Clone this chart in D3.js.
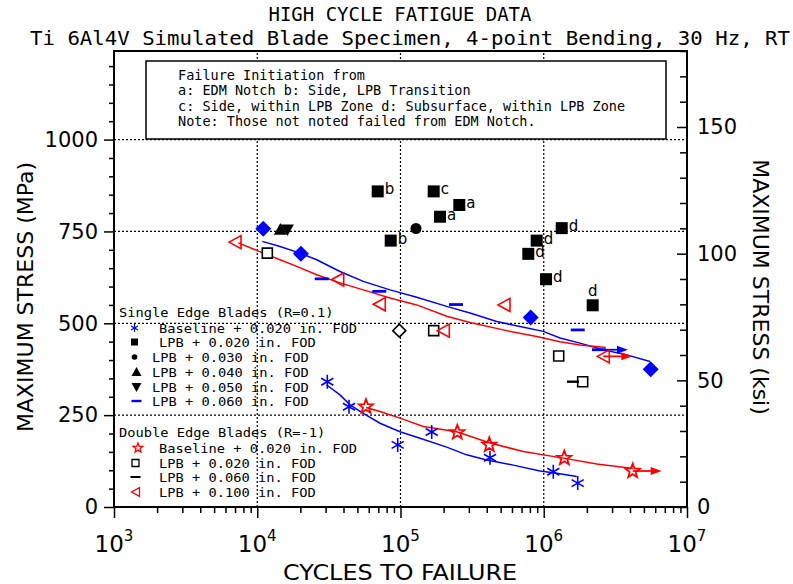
<!DOCTYPE html>
<html>
<head>
<meta charset="utf-8">
<script src="https://cdn.jsdelivr.net/npm/d3@7"></script>
<style>
  body { margin: 0; background: #fff; }
  text { fill: #000; }
</style>
</head>
<body>
<svg id="chart" width="793" height="584"></svg>
<script>
// values, [cycles, MPa]
var KSI = 6.895;
var xTicks = [1e3, 1e4, 1e5, 1e6, 1e7];
var yTicks = [0, 250, 500, 750, 1000];
var ksiTicks = [0, 50, 100, 150];

// Single Edge Blades (R=0.1)
var seBaseline = [[30830, 341], [43700, 273], [95600, 169], [165100, 204], [421500, 134], [1166000, 96], [1726000, 65]];
var seLpb020 = [[69340, 859, "b"], [85450, 725, "b"], [170500, 859, "c"], [257300, 822, "a"], [188700, 790, "a"],
                [1335000, 759, "d"], [892900, 725, "d"], [780100, 689, "d"], [1036800, 620, "d"], [2196000, 549, "d"]];
var seLpb030 = [[128300, 758]];
var seLpb040 = [[14500, 755]];
var seLpb050 = [[16240, 755]];
var seLpb060 = [[28200, 621], [71100, 587], [244000, 551], [1726000, 482], [2430000, 428, "runout"]];
var seDiamonds = [[11015, 757], [20180, 689], [811000, 516], [5580000, 375]];
var openDiamonds = [[98080, 480]];

// Double Edge Blades (R=-1)
var deBaseline = [[57430, 273], [249200, 203], [416800, 169], [1391000, 133], [4178000, 98, "runout"]];
var deLpb020 = [[11755, 691], [170500, 480], [1272000, 411], [1870000, 341]];
var deLpb060 = [[1600000, 341]];
var deLpb100 = [[6993, 721], [36430, 619], [71100, 552], [199000, 480], [527900, 550], [2604000, 410, "runout"]];

// fitted curves
var seLpbFit = [[10846, 723], [14410, 709], [19880, 691], [26000, 673], [37820, 641], [55000, 614], [84470, 591],
                [129800, 571], [210200, 546], [305600, 528], [469400, 505], [682900, 491], [993000, 478],
                [1298000, 460], [1791000, 446], [2592000, 428], [3794000, 414], [5516000, 396]];
var deLpbFit = [[7375, 719], [11020, 691], [14410, 673], [18860, 655], [26000, 632], [37820, 610], [55000, 591],
                [84470, 569], [129800, 550], [210200, 519], [305600, 502], [551300, 480], [892900, 464],
                [1298000, 450], [1791000, 441], [2706000, 434]];
var seBaseFit = [[30530, 332], [37820, 305], [44420, 278], [55000, 255], [71920, 228], [99200, 205], [136800, 187],
                 [210200, 163], [289800, 142], [399700, 128], [612900, 114], [941400, 98], [1231000, 92], [1698000, 83]];
var deBaseFit = [[57430, 271], [71920, 260], [99200, 242], [144300, 219], [246800, 205], [421500, 174],
                 [720000, 151], [1369000, 133], [2343000, 117], [4219000, 105]];

var boxLines = ["Failure Initiation from",
                "a: EDM Notch b: Side, LPB Transition",
                "c: Side, within LPB Zone d: Subsurface, within LPB Zone",
                "Note: Those not noted failed from EDM Notch."];
var seLegend = ["Baseline + 0.020 in. FOD", "LPB + 0.020 in. FOD", "LPB + 0.030 in. FOD",
                "LPB + 0.040 in. FOD", "LPB + 0.050 in. FOD", "LPB + 0.060 in. FOD"];
var deLegend = ["Baseline + 0.020 in. FOD", "LPB + 0.020 in. FOD", "LPB + 0.060 in. FOD", "LPB + 0.100 in. FOD"];

var BLUE = "#0000ff", RED = "#ff0000";
var MONO = "'DejaVu Sans Mono', monospace";
var SANS = "'DejaVu Sans', sans-serif";

var svg = d3.select("#chart");

var x = d3.scaleLog().domain([1e3, 1e7]).range([114, 687]);
var y = d3.scaleLinear().domain([0, 180 * KSI]).range([507, 51]);
var yKsi = d3.scaleLinear().domain([0, 180]).range([507, 51]);

// titles
svg.append("text").attr("x", 400).attr("y", 21).attr("text-anchor", "middle")
  .style("font-family", MONO).style("font-size", "19px")
  .attr("textLength", 263).attr("lengthAdjust", "spacingAndGlyphs")
  .text("HIGH CYCLE FATIGUE DATA");
svg.append("text").attr("x", 410).attr("y", 45).attr("text-anchor", "middle")
  .style("font-family", MONO).style("font-size", "20px")
  .attr("textLength", 760).attr("lengthAdjust", "spacingAndGlyphs")
  .text("Ti 6Al4V Simulated Blade Specimen, 4-point Bending, 30 Hz, RT");

// dotted grid
var grid = svg.append("g").attr("stroke", "#000").attr("stroke-width", 1.2).attr("stroke-dasharray", "2,2");
grid.selectAll(".gx").data(xTicks.slice(1, -1)).join("line")
  .attr("x1", d => x(d)).attr("x2", d => x(d)).attr("y1", y.range()[0]).attr("y2", y.range()[1]);
grid.selectAll(".gy").data(yTicks.filter(d => d > 0)).join("line")
  .attr("x1", x.range()[0]).attr("x2", x.range()[1]).attr("y1", d => y(d)).attr("y2", d => y(d));

// axes
var minorX = [];
[1e3, 1e4, 1e5, 1e6].forEach(function(p) { for (var m = 2; m <= 9; m++) minorX.push(m * p); });

function styleAxis(g) {
  g.select(".domain").remove();
  g.selectAll(".tick line").attr("stroke-width", 1.5);
  g.selectAll("text").style("font-family", SANS).style("font-size", "21px").attr("fill", "#000");
}

svg.append("g").attr("transform", "translate(0,507)")
  .call(d3.axisBottom(x).tickValues(minorX).tickSize(6).tickFormat("")).call(styleAxis);
svg.append("g").attr("transform", "translate(0,507)")
  .call(d3.axisBottom(x).tickValues(xTicks).tickSize(11).tickFormat("")).call(styleAxis);

svg.append("g").selectAll("text").data(xTicks).join("text")
  .attr("x", d => x(d)).attr("y", 552).attr("text-anchor", "middle")
  .style("font-family", SANS).style("font-size", "23px")
  .each(function(d) {
    var t = d3.select(this);
    t.append("tspan").text("10");
    t.append("tspan").attr("dy", -11).style("font-size", "15px").text(Math.round(Math.log10(d)));
  });

svg.append("g").attr("transform", "translate(114,0)")
  .call(d3.axisLeft(y).tickValues(d3.range(50, 1241, 50).filter(d => d % 250 != 0)).tickSize(5).tickFormat(""))
  .call(styleAxis);
svg.append("g").attr("transform", "translate(114,0)")
  .call(d3.axisLeft(y).tickValues(yTicks).tickSize(10).tickPadding(6).tickFormat(d3.format("d"))).call(styleAxis);

svg.append("g").attr("transform", "translate(687,0)")
  .call(d3.axisRight(yKsi).tickValues(d3.range(10, 181, 10).filter(d => d % 50 != 0)).tickSize(-7).tickFormat(""))
  .call(styleAxis);
svg.append("g").attr("transform", "translate(687,0)")
  .call(d3.axisRight(yKsi).tickValues(ksiTicks).tickSizeInner(-10).tickSizeOuter(0).tickPadding(10)
    .tickFormat(d3.format("d"))).call(styleAxis);

// axis titles
svg.append("text").attr("transform", "translate(33,297) rotate(-90)").attr("text-anchor", "middle")
  .style("font-family", SANS).style("font-size", "22px").text("MAXIMUM STRESS (MPa)");
svg.append("text").attr("transform", "translate(753,287) rotate(90)").attr("text-anchor", "middle")
  .style("font-family", SANS).style("font-size", "22px").text("MAXIMUM STRESS (ksi)");
svg.append("text").attr("x", 400).attr("y", 580).attr("text-anchor", "middle")
  .style("font-family", SANS).style("font-size", "22px")
  .attr("textLength", 234).attr("lengthAdjust", "spacingAndGlyphs").text("CYCLES TO FAILURE");

// frame
svg.append("rect").attr("x", 114).attr("y", 51).attr("width", 687 - 114).attr("height", 507 - 51)
  .attr("fill", "none").attr("stroke", "#000").attr("stroke-width", 2);

// note box
svg.append("rect").attr("x", 146).attr("y", 61).attr("width", 520).attr("height", 78)
  .attr("fill", "#fff").attr("stroke", "#000").attr("stroke-width", 1.5);
svg.append("g").selectAll("text").data(boxLines).join("text")
  .attr("x", 178).attr("y", (d, i) => 80 + i * 15.3)
  .style("font-family", MONO).style("font-size", "13.5px").text(d => d);

// symbol paths
function starPath(r) {
  var p = [];
  for (var i = 0; i < 10; i++) {
    var a = -Math.PI / 2 + i * Math.PI / 5, rr = i % 2 ? r * 0.42 : r;
    p.push([rr * Math.cos(a), rr * Math.sin(a)]);
  }
  return "M" + p.map(q => q[0].toFixed(2) + "," + q[1].toFixed(2)).join("L") + "Z";
}
function asteriskPath(r) {
  var c = r * 0.866, s = r * 0.5;
  return "M0," + (-r) + "L0," + r + "M" + (-c) + "," + (-s) + "L" + c + "," + s + "M" + (-c) + "," + s + "L" + c + "," + (-s);
}
function leftTriPath(r) { return "M" + (-r) + ",0L" + r + "," + (-r * 1.1) + "L" + r + "," + (r * 1.1) + "Z"; }
function upTriPath(r) { return "M0," + (-r) + "L" + r + "," + (r * 0.8) + "L" + (-r) + "," + (r * 0.8) + "Z"; }
function downTriPath(r) { return "M0," + r + "L" + r + "," + (-r * 0.8) + "L" + (-r) + "," + (-r * 0.8) + "Z"; }
function squarePath(r) { return "M" + (-r) + "," + (-r) + "H" + r + "V" + r + "H" + (-r) + "Z"; }
function diamondPath(r) { return "M0," + (-r) + "L" + r + ",0L0," + r + "L" + (-r) + ",0Z"; }
function dashPath(w, h) { return "M" + (-w) + "," + (-h) + "H" + w + "V" + h + "H" + (-w) + "Z"; }

var marks = svg.append("g");
function plotMarks(data, path, fill, stroke, sw) {
  marks.append("g").selectAll("path").data(data).join("path")
    .attr("transform", d => "translate(" + x(d[0]) + "," + y(d[1]) + ")")
    .attr("d", path).attr("fill", fill).attr("stroke", stroke).attr("stroke-width", sw || 0);
}
function plotRunouts(data, color) {
  var g = marks.append("g");
  data.filter(d => d[2] == "runout").forEach(function(d) {
    var px = x(d[0]), py = y(d[1]);
    g.append("line").attr("x1", px).attr("x2", px + 20).attr("y1", py).attr("y2", py)
      .attr("stroke", color).attr("stroke-width", 1.8);
    g.append("path").attr("d", "M" + (px + 29) + "," + py + "L" + (px + 18) + "," + (py - 4) + "L" + (px + 18) + "," + (py + 4) + "Z")
      .attr("fill", color);
  });
}

// fitted curves
var line = d3.line().x(d => x(d[0])).y(d => y(d[1]));
[[seLpbFit, BLUE], [deLpbFit, RED], [seBaseFit, BLUE], [deBaseFit, RED]].forEach(function(c) {
  marks.append("path").datum(c[0]).attr("d", line).attr("fill", "none").attr("stroke", c[1]).attr("stroke-width", 1.5);
});

plotRunouts(seLpb060, BLUE);
plotRunouts(deLpb100, RED);
plotRunouts(deBaseline, RED);

plotMarks(seDiamonds, diamondPath(8), BLUE, "none");
plotMarks(openDiamonds, diamondPath(6.5), "#fff", "#000", 1.6);
plotMarks(seLpb040, upTriPath(6.5), "#000", "none");
plotMarks(seLpb050, downTriPath(6.5), "#000", "none");
plotMarks(seLpb030, "M0,0m-5.5,0a5.5,5.5 0 1,0 11,0a5.5,5.5 0 1,0 -11,0", "#000", "none");
plotMarks(seLpb020, squarePath(6), "#000", "none");
plotMarks(seLpb060, dashPath(7, 1.4), BLUE, "none");
plotMarks(deLpb020, squarePath(5), "#fff", "#000", 1.6);
plotMarks(deLpb060, dashPath(6, 1.2), "#000", "none");
plotMarks(deLpb100, leftTriPath(6), "none", RED, 1.6);
plotMarks(seBaseline, asteriskPath(7), "none", BLUE, 1.6);
plotMarks(deBaseline, starPath(7.5), "none", RED, 1.8);

// initiation letters
marks.append("g").selectAll("text").data(seLpb020).join("text")
  .attr("x", (d, i) => x(d[0]) + (i == seLpb020.length - 1 ? 0 : 7))
  .attr("y", (d, i) => y(d[1]) + (i == seLpb020.length - 1 ? -9 : 3))
  .attr("text-anchor", (d, i) => i == seLpb020.length - 1 ? "middle" : "start")
  .style("font-family", SANS).style("font-size", "15px").text(d => d[2]);

// lower-left legend
var leg = svg.append("g").style("font-family", MONO).style("font-size", "12px");
function legText(tx, ty, t) {
  leg.append("text").attr("x", tx).attr("y", ty).attr("textLength", t.length * 8.25)
    .attr("lengthAdjust", "spacingAndGlyphs").text(t);
}
legText(119, 317, "Single Edge Blades (R=0.1)");
var seSyms = [[asteriskPath(4), "none", BLUE, 1.2], [squarePath(3.5), "#000", "none", 0], ["M-2.8,0a2.8,2.8 0 1,0 5.6,0a2.8,2.8 0 1,0 -5.6,0", "#000", "none", 0],
              [upTriPath(5), "#000", "none", 0], [downTriPath(5), "#000", "none", 0], [dashPath(5, 1.2), BLUE, "none", 0]];
var seTextX = [159, 159, 152, 152, 152, 152];
var seRowY = [328, 342, 357, 372, 387, 401];
seLegend.forEach(function(t, i) {
  leg.append("path").attr("transform", "translate(" + (i > 2 ? 136.5 : 134.5) + "," + seRowY[i] + ")")
    .attr("d", seSyms[i][0]).attr("fill", seSyms[i][1]).attr("stroke", seSyms[i][2]).attr("stroke-width", seSyms[i][3]);
  legText(seTextX[i], seRowY[i] + 5, t);
});
legText(119, 437, "Double Edge Blades (R=-1)");
var deSyms = [[starPath(5), "none", RED, 1.3], [squarePath(3.5), "#fff", "#000", 1.3], [dashPath(5, 1), "#000", "none", 0], [leftTriPath(4), "none", RED, 1.3]];
var deRowY = [448, 463, 477, 492];
deLegend.forEach(function(t, i) {
  leg.append("path").attr("transform", "translate(" + (i == 0 ? 138 : 135.5) + "," + deRowY[i] + ")")
    .attr("d", deSyms[i][0]).attr("fill", deSyms[i][1]).attr("stroke", deSyms[i][2]).attr("stroke-width", deSyms[i][3]);
  legText(159, deRowY[i] + 5, t);
});
</script>
</body>
</html>
